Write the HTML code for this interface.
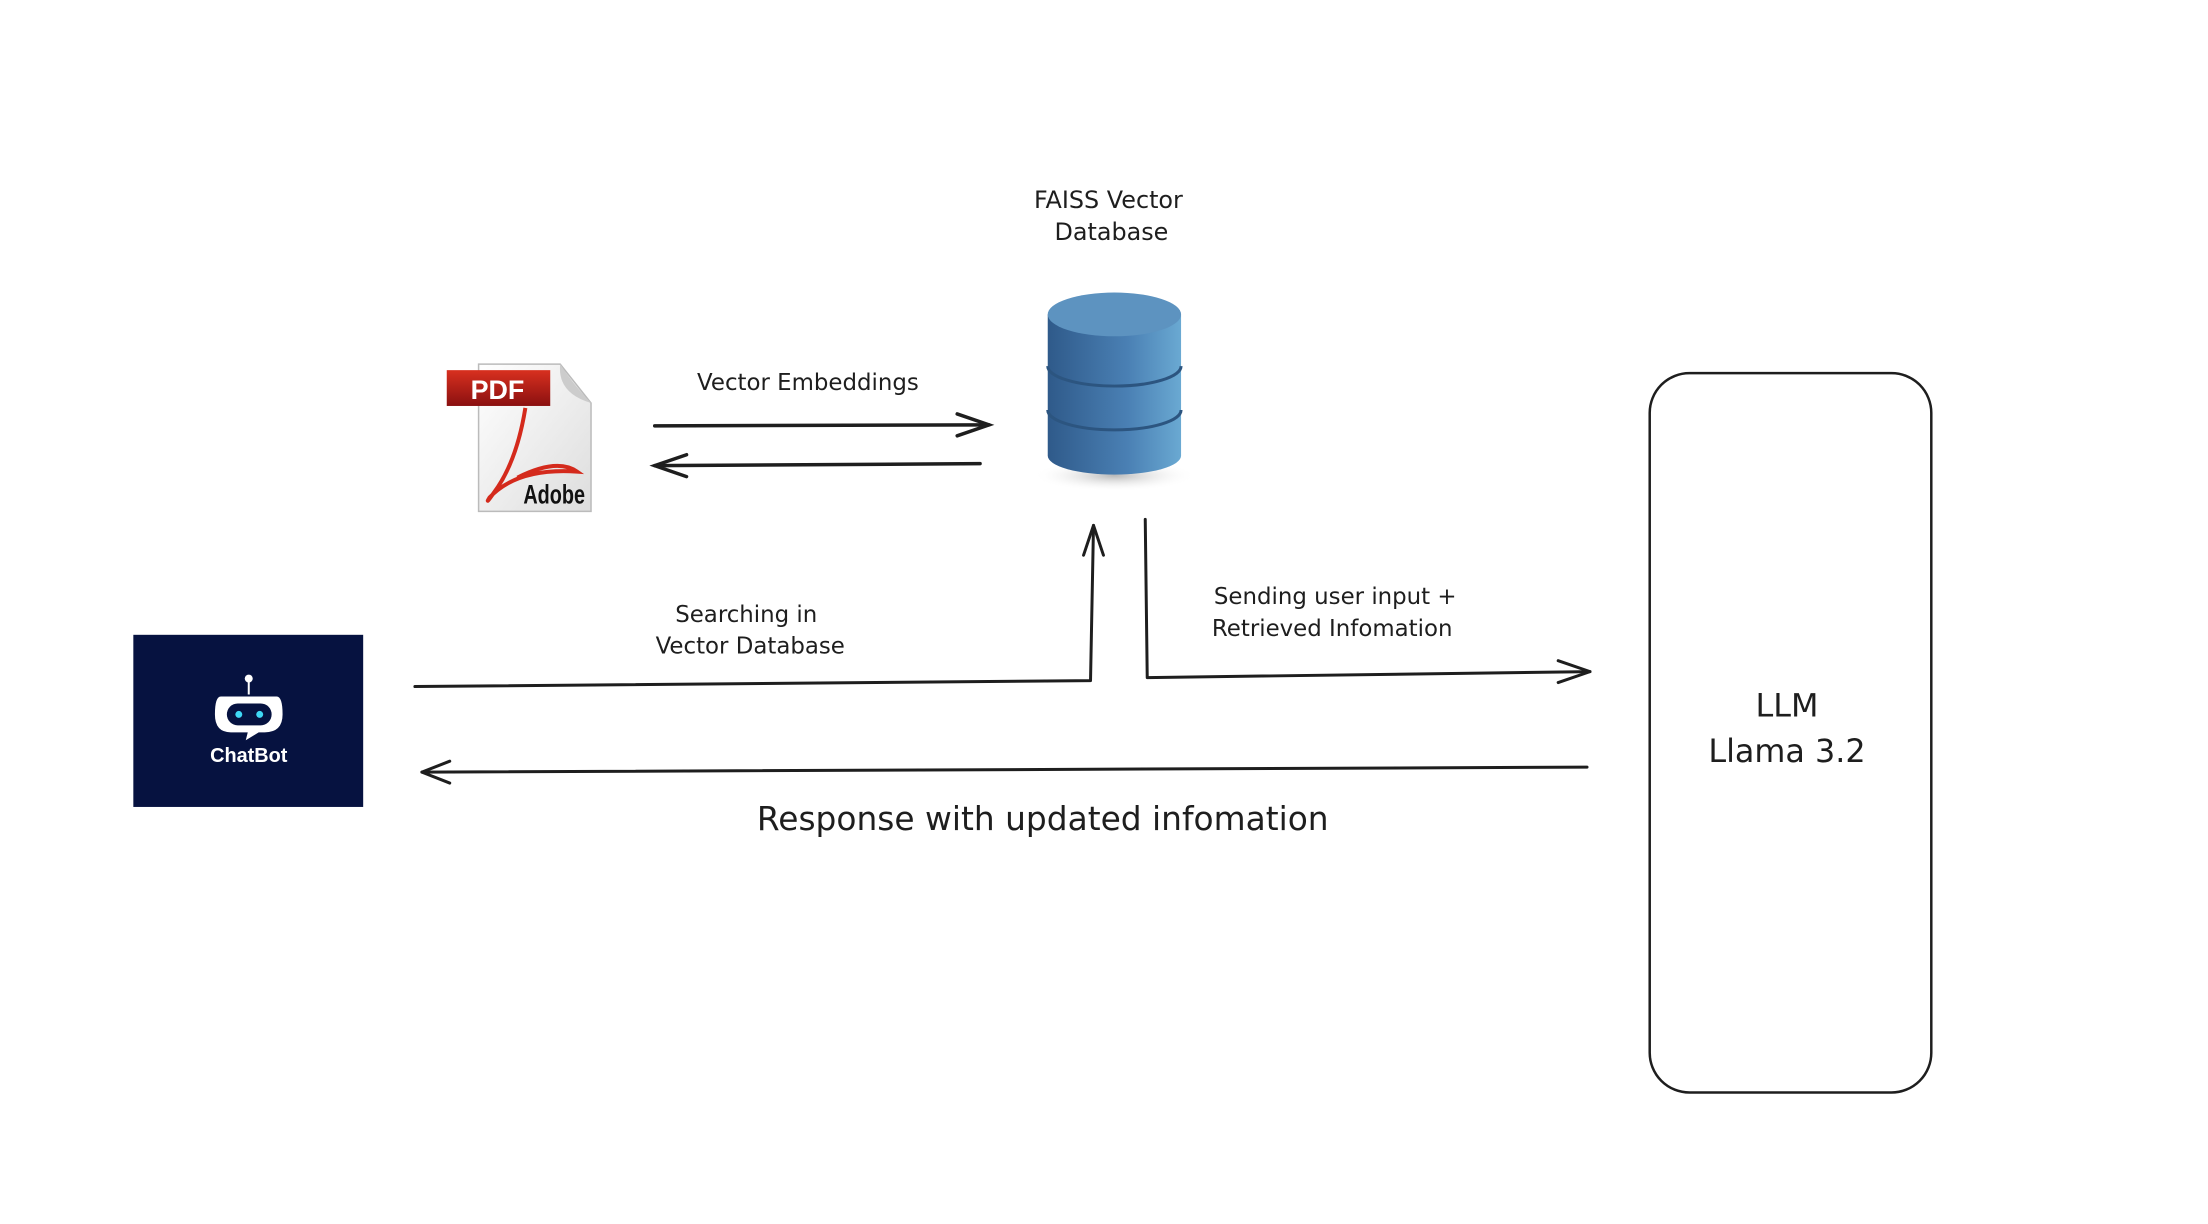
<!DOCTYPE html>
<html><head><meta charset="utf-8"><style>
html,body{margin:0;padding:0;background:#fff;}
svg{display:block;}
text{font-family:"DejaVu Sans","Liberation Sans",sans-serif;fill:#1e1e1e;}
</style></head><body>
<svg width="2208" height="1224" viewBox="0 0 2208 1224" xmlns="http://www.w3.org/2000/svg">
<defs>
<linearGradient id="cyl" x1="0" x2="1" y1="0" y2="0">
<stop offset="0" stop-color="#2f5a8a"/><stop offset="0.6" stop-color="#4a80b4"/><stop offset="1" stop-color="#6aa9d2"/>
</linearGradient>
<radialGradient id="shd" cx="0.5" cy="0.5" r="0.5"><stop offset="0" stop-color="#888" stop-opacity="0.6"/><stop offset="1" stop-color="#fff" stop-opacity="0"/></radialGradient>
<linearGradient id="paper" x1="0" x2="1" y1="0" y2="1"><stop offset="0" stop-color="#fff"/><stop offset="1" stop-color="#ddd"/></linearGradient>
<linearGradient id="pdfred" x1="0" x2="0" y1="0" y2="1"><stop offset="0" stop-color="#d8301f"/><stop offset="1" stop-color="#8a1010"/></linearGradient>
</defs>
<g transform="scale(0.995)">
<!-- FAISS label -->
<text x="1114" y="209" font-size="24" text-anchor="middle">FAISS Vector</text>
<text x="1117" y="241" font-size="24" text-anchor="middle">Database</text>

<!-- cylinder -->
<ellipse cx="1120" cy="478" rx="82" ry="16" fill="url(#shd)"/>
<path d="M1053 316 V458 A67 19 0 0 0 1187 458 V316 Z" fill="url(#cyl)"/>
<ellipse cx="1120" cy="316" rx="67" ry="22" fill="#5d93c0"/>
<path d="M1053 368 A67 20 0 0 0 1187 368" fill="none" stroke="#2c5580" stroke-width="3"/>
<path d="M1053 412 A67 20 0 0 0 1187 412" fill="none" stroke="#2c5580" stroke-width="3"/>

<!-- PDF icon -->
<path d="M481 366 H563 L594 405 V514 H481 Z" fill="url(#paper)" stroke="#bbb" stroke-width="1.5"/>
<path d="M563 366 Q560 395 594 405 Q575 385 563 366 Z" fill="#ccc"/>
<rect x="449" y="372" width="104" height="36" fill="url(#pdfred)"/>
<text x="500" y="401" font-size="27" font-weight="bold" text-anchor="middle" style="fill:#fff;font-family:'Liberation Sans',sans-serif">PDF</text>
<path d="M528 410 Q520 460 500 490 Q486 510 492 500 Q520 470 580 474 Q560 460 520 480" fill="none" stroke="#d42a1c" stroke-width="4"/>
<text x="557" y="506" font-size="27" font-weight="bold" text-anchor="middle" style="font-family:'Liberation Sans',sans-serif;fill:#111" textLength="62" lengthAdjust="spacingAndGlyphs">Adobe</text>

<!-- Vector Embeddings -->
<text x="812" y="392" font-size="23" text-anchor="middle">Vector Embeddings</text>
<g stroke="#1e1e1e" stroke-width="3.5" fill="none" stroke-linecap="round">
<path d="M658 428 L994 427"/>
<path d="M962 416 L994 427 L962 438"/>
<path d="M658 468 L985 466"/>
<path d="M690 457 L658 468 L690 479"/>
</g>

<!-- Searching path -->
<text x="750" y="625" font-size="23" text-anchor="middle">Searching in</text>
<text x="754" y="657" font-size="23" text-anchor="middle">Vector Database</text>
<g stroke="#1e1e1e" stroke-width="3" fill="none" stroke-linecap="round" stroke-linejoin="round">
<path d="M417 690 L1096 684 L1099 528"/>
<path d="M1089 558 L1099 528 L1109 558"/>
<path d="M1151 522 L1153 681 L1598 675"/>
<path d="M1566 664 L1598 675 L1566 686"/>
<path d="M1595 771 L424 776"/>
<path d="M452 765 L424 776 L452 787"/>
</g>

<text x="1220" y="607" font-size="23">Sending user input +</text>
<text x="1218" y="639" font-size="23">Retrieved Infomation</text>

<text x="1048" y="834" font-size="33" text-anchor="middle">Response with updated infomation</text>

<!-- LLM box -->
<rect x="1658" y="375" width="283" height="723" rx="40" ry="40" fill="none" stroke="#1e1e1e" stroke-width="2.5"/>
<text x="1796" y="720" font-size="32" text-anchor="middle">LLM</text>
<text x="1796" y="766" font-size="32" text-anchor="middle">Llama 3.2</text>

<!-- ChatBot -->
<rect x="134" y="638" width="231" height="173" fill="#061240"/>
<line x1="250" y1="685" x2="250" y2="698" stroke="#fff" stroke-width="2"/>
<circle cx="250" cy="682" r="4" fill="#fff"/>
<path d="M222 700 H278 Q284 700 284 718 Q284 736 266 736 H260 L247 744 L249 736 H232 Q216 736 216 718 Q216 700 222 700 Z" fill="#fff"/>
<rect x="228" y="707" width="45" height="22" rx="11" fill="#061240"/>
<circle cx="240" cy="718" r="3.5" fill="#3fd8f5"/>
<circle cx="261" cy="718" r="3.5" fill="#3fd8f5"/>
<text x="250" y="766" font-size="20" font-weight="bold" text-anchor="middle" style="fill:#fff;font-family:'Liberation Sans',sans-serif">ChatBot</text>
</g>
</svg>
</body></html>
